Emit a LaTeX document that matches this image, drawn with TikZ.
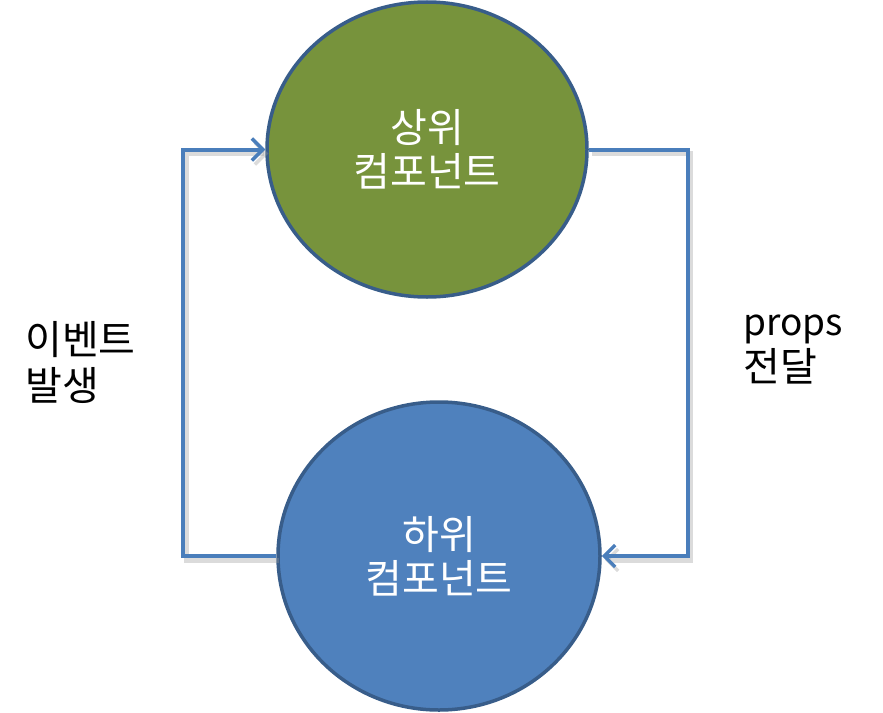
\documentclass[tikz,border=0pt]{standalone}
\usepackage{fontspec}
\setmainfont{Noto Sans CJK KR}
\usetikzlibrary{shapes.geometric,arrows.meta}
\definecolor{lineblue}{HTML}{4A7EBB}
\definecolor{edgeblue}{HTML}{385D8A}
\definecolor{fillblue}{HTML}{4F81BD}
\definecolor{fillgreen}{HTML}{77933C}
\tikzset{
  comp/.style={ellipse, draw=edgeblue, line width=3.5pt, inner sep=0pt,
    text=white, align=center, font=\fontsize{40}{44}\selectfont},
  conn/.style={draw=lineblue, line width=4pt,
    preaction={draw=black!40, opacity=0.35, line width=5pt, transform canvas={shift={(3pt,-4pt)}}}},
  tip/.style={-{Straight Barb[length=11pt,width=22pt,line width=3.5pt]}},
  lbl/.style={align=left, inner sep=0pt, font=\fontsize{40}{46}\selectfont}
}
\begin{document}
\begin{tikzpicture}[x=1pt,y=-1pt]
\useasboundingbox (0,0) rectangle (883,712);
\node[comp, fill=fillgreen, minimum width=320pt, minimum height=295pt] (top) at (427,149.5) {상위\\컴포넌트};
\node[comp, fill=fillblue, minimum width=322pt, minimum height=308pt] (bot) at (439,556) {하위\\컴포넌트};
\draw[conn, tip] (bot.west) -- ++(-93,0) |- (top.west);
\draw[conn, tip] (top.east) -- ++(99,0) |- (bot.east);
\node[lbl, anchor=west] (evt) at (25,362) {이벤트\\발생};
\node[lbl, anchor=west] (props) at (743,350) {{\fontsize{37}{46}\selectfont props}\\전달};
\end{tikzpicture}
\end{document}
